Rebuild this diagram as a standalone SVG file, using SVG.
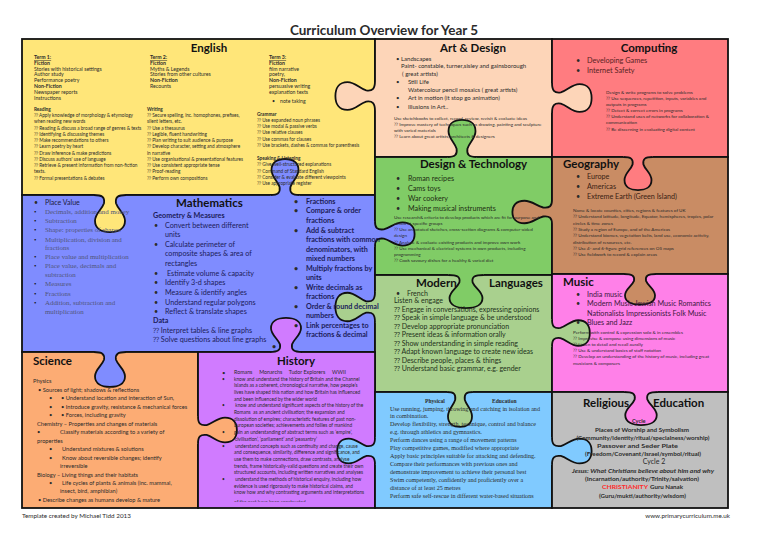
<svg xmlns="http://www.w3.org/2000/svg" xmlns:xlink="http://www.w3.org/1999/xlink" width="768" height="543" viewBox="0 0 768 543">
<style>
text{font-family:Lato,"Liberation Sans",sans-serif;fill:#2b2b2b}
.b{font-weight:bold}
.h{font-weight:bold;font-size:11.5px;fill:#111}
.sr{font-family:"Liberation Serif",serif}
.p{stroke:#111;stroke-width:1.8}
</style>
<defs>
<path id="tf" d="M-16,0 C-8,0 -5,-2 -6,-8 C-8,-14 -15,-18 -15,-25 C-15,-33 -8,-36 0,-36 C8,-36 15,-33 15,-25 C15,-18 8,-14 6,-8 C5,-2 8,0 16,0 L16,1.8 L-16,1.8 Z"/>
<path id="ts" d="M-16,0 C-8,0 -5,-2 -6,-8 C-8,-14 -15,-18 -15,-25 C-15,-33 -8,-36 0,-36 C8,-36 15,-33 15,-25 C15,-18 8,-14 6,-8 C5,-2 8,0 16,0" fill="none" stroke="#111" stroke-width="1.8" vector-effect="non-scaling-stroke"/>
<clipPath id="hclip"><rect x="198" y="352" width="177" height="149.8"/></clipPath>
</defs>
<rect width="768" height="543" fill="#fff"/>
<text x="384" y="35" text-anchor="middle" class="b" font-size="13.5" fill="#111">Curriculum Overview for Year 5</text>

<g id="panels">
<rect class="p" x="22" y="39" width="353" height="156" fill="#FFE679"/>
<rect class="p" x="375" y="39" width="177" height="118" fill="#FDD5B8"/>
<rect class="p" x="552" y="39" width="176" height="118" fill="#FF7C80"/>
<rect class="p" x="22" y="195" width="353" height="157" fill="#7F8CFF"/>
<rect class="p" x="375" y="157" width="177" height="118" fill="#80CC66"/>
<rect class="p" x="552" y="157" width="176" height="117" fill="#C98C64"/>
<rect class="p" x="375" y="275" width="177" height="117" fill="#A9D08E"/>
<rect class="p" x="552" y="274" width="176" height="118" fill="#FF80E8"/>
<rect class="p" x="22" y="352" width="176" height="156" fill="#FCAC74"/>
<rect class="p" x="198" y="352" width="177" height="156" fill="#D07BFF"/>
<rect class="p" x="375" y="392" width="177" height="116" fill="#80CAFF"/>
<rect class="p" x="552" y="392" width="176" height="116" fill="#BFBFBF"/>
</g>

<g id="tabs">
<use xlink:href="#tf" fill="#FDD5B8" transform="translate(375,96) rotate(-90) scale(0.93,1.1)"/>
<use xlink:href="#ts" transform="translate(375,96) rotate(-90) scale(0.93,1.1)"/>
<use xlink:href="#tf" fill="#FDD5B8" transform="translate(552,98) rotate(90) scale(0.93,1.1)"/>
<use xlink:href="#ts" transform="translate(552,98) rotate(90) scale(0.93,1.1)"/>
<use xlink:href="#tf" fill="#80CC66" transform="translate(462,157) scale(0.9,1.03)"/>
<use xlink:href="#ts" transform="translate(462,157) scale(0.9,1.03)"/>
<use xlink:href="#tf" fill="#FFE679" transform="translate(110,195) rotate(180) scale(1,1.03)"/>
<use xlink:href="#ts" transform="translate(110,195) rotate(180) scale(1,1.03)"/>
<use xlink:href="#tf" fill="#7F8CFF" transform="translate(285,195) scale(0.9,1)"/>
<use xlink:href="#ts" transform="translate(285,195) scale(0.9,1)"/>
<use xlink:href="#tf" fill="#7F8CFF" transform="translate(375,234) rotate(90) scale(0.77,1.1)"/>
<use xlink:href="#ts" transform="translate(375,234) rotate(90) scale(0.77,1.1)"/>
<use xlink:href="#tf" fill="#A9D08E" transform="translate(375,307) rotate(-90) scale(0.95,1.1)"/>
<use xlink:href="#ts" transform="translate(375,307) rotate(-90) scale(0.95,1.1)"/>
<use xlink:href="#tf" fill="#C98C64" transform="translate(552,212) rotate(-90) scale(0.75,1.1)"/>
<use xlink:href="#ts" transform="translate(552,212) rotate(-90) scale(0.75,1.1)"/>
<use xlink:href="#tf" fill="#FF7C80" transform="translate(638,157) rotate(180) scale(0.9,0.92)"/>
<use xlink:href="#ts" transform="translate(638,157) rotate(180) scale(0.9,0.92)"/>
<use xlink:href="#tf" fill="#80CC66" transform="translate(466,275) rotate(180) scale(1.1,0.92)"/>
<use xlink:href="#ts" transform="translate(466,275) rotate(180) scale(1.1,0.92)"/>
<use xlink:href="#tf" fill="#C98C64" transform="translate(640,274) rotate(180) scale(1,0.85)"/>
<use xlink:href="#ts" transform="translate(640,274) rotate(180) scale(1,0.85)"/>
<use xlink:href="#tf" fill="#A9D08E" transform="translate(552,333) rotate(90) scale(0.85,1.05)"/>
<use xlink:href="#ts" transform="translate(552,333) rotate(90) scale(0.85,1.05)"/>
<use xlink:href="#tf" fill="#7F8CFF" transform="translate(110,352) rotate(180) scale(1,0.97)"/>
<use xlink:href="#ts" transform="translate(110,352) rotate(180) scale(1,0.97)"/>
<use xlink:href="#tf" fill="#FCAC74" transform="translate(198,430) rotate(90) scale(0.83,1.08)"/>
<use xlink:href="#ts" transform="translate(198,430) rotate(90) scale(0.83,1.08)"/>
<use xlink:href="#tf" fill="#D07BFF" transform="translate(286,352) scale(1,0.95)"/>
<use xlink:href="#ts" transform="translate(286,352) scale(1,0.95)"/>
<use xlink:href="#tf" fill="#80CAFF" transform="translate(375,451) rotate(-90) scale(0.83,1.05)"/>
<use xlink:href="#ts" transform="translate(375,451) rotate(-90) scale(0.83,1.05)"/>
<use xlink:href="#tf" fill="#A9D08E" transform="translate(460,392) rotate(180) scale(0.8,0.97)"/>
<use xlink:href="#ts" transform="translate(460,392) rotate(180) scale(0.8,0.97)"/>
<use xlink:href="#tf" fill="#FF80E8" transform="translate(641,392) rotate(180) scale(1.05,0.92)"/>
<use xlink:href="#ts" transform="translate(641,392) rotate(180) scale(1.05,0.92)"/>
<use xlink:href="#tf" fill="#80CAFF" transform="translate(552,451) rotate(90) scale(0.83,1.1)"/>
<use xlink:href="#ts" transform="translate(552,451) rotate(90) scale(0.83,1.1)"/>
</g>

<g id="english">
<text x="209" y="52" text-anchor="middle" class="h">English</text>
<text font-size="5.2">
<tspan x="34" y="59" class="b" text-decoration="underline">Term 1:</tspan>
<tspan x="34" y="64.5" class="b">Fiction</tspan>
<tspan x="34" y="70.5">Stories with historical settings</tspan>
<tspan x="34" y="76.3">Author study</tspan>
<tspan x="34" y="82.2">Performance poetry</tspan>
<tspan x="34" y="88" class="b">Non-Fiction</tspan>
<tspan x="34" y="94">Newspaper reports</tspan>
<tspan x="34" y="99.7">Instructions</tspan>
<tspan x="150" y="59" class="b" text-decoration="underline">Term 2:</tspan>
<tspan x="150" y="64.5" class="b">Fiction</tspan>
<tspan x="150" y="70.5">Myths &amp; Legends</tspan>
<tspan x="150" y="76.3">Stories from other cultures</tspan>
<tspan x="150" y="82.2" class="b">Non-Fiction</tspan>
<tspan x="150" y="88">Recounts</tspan>
<tspan x="269" y="59" class="b" text-decoration="underline">Term 3:</tspan>
<tspan x="269" y="64.5" class="b">Fiction</tspan>
<tspan x="269" y="70.5">film narrative</tspan>
<tspan x="269" y="76.3">poetry,</tspan>
<tspan x="269" y="82.2" class="b">Non-Fiction</tspan>
<tspan x="269" y="88">persuasive writing</tspan>
<tspan x="269" y="94">explanation texts</tspan>
<tspan x="272" y="103">•</tspan>
<tspan x="280" y="103">note taking</tspan>
</text>
<text font-size="4.7">
<tspan x="34" y="111" class="b">Reading</tspan>
<tspan x="34" y="117.2">⁇ Apply knowledge of morphology &amp; etymology</tspan>
<tspan x="34" y="123.3">when reading new words</tspan>
<tspan x="34" y="129.5">⁇ Reading &amp; discuss a broad range of genres &amp; texts</tspan>
<tspan x="34" y="135.7">⁇ Identifying &amp; discussing themes</tspan>
<tspan x="34" y="142">⁇ Make recommendations to others</tspan>
<tspan x="34" y="148.2">⁇ Learn poetry by heart</tspan>
<tspan x="34" y="154.5">⁇ Draw inference &amp; make predictions</tspan>
<tspan x="34" y="160.8">⁇ Discuss authors' use of language</tspan>
<tspan x="34" y="167">⁇ Retrieve &amp; present information from non-fiction</tspan>
<tspan x="34" y="173.3">texts.</tspan>
<tspan x="34" y="179.6">⁇ Formal presentations &amp; debates</tspan>
<tspan x="147" y="111" class="b">Writing</tspan>
<tspan x="147" y="117.2">⁇ Secure spelling, inc. homophones, prefixes,</tspan>
<tspan x="147" y="123.3">silent letters, etc.</tspan>
<tspan x="147" y="129.5">⁇ Use a thesaurus</tspan>
<tspan x="147" y="135.7">⁇ Legible, fluent handwriting</tspan>
<tspan x="147" y="142">⁇ Plan writing to suit audience &amp; purpose</tspan>
<tspan x="147" y="148.2">⁇ Develop character, setting and atmosphere</tspan>
<tspan x="147" y="154.5">in narrative</tspan>
<tspan x="147" y="160.8">⁇ Use organisational &amp; presentational features</tspan>
<tspan x="147" y="167">⁇ Use consistent appropriate tense</tspan>
<tspan x="147" y="173.3">⁇ Proof-reading</tspan>
<tspan x="147" y="179.6">⁇ Perform own compositions</tspan>
<tspan x="257" y="115.5" class="b">Grammar</tspan>
<tspan x="257" y="121.8">⁇ Use expanded noun phrases</tspan>
<tspan x="257" y="128">⁇ Use modal &amp; passive verbs</tspan>
<tspan x="257" y="134.3">⁇ Use relative clauses</tspan>
<tspan x="257" y="140.6">⁇ Use commas for clauses</tspan>
<tspan x="257" y="146.9">⁇ Use brackets, dashes &amp; commas for parenthesis</tspan>
<tspan x="257" y="160" class="b">Speaking &amp; Listening</tspan>
<tspan x="257" y="166.2">⁇ Give well-structured explanations</tspan>
<tspan x="257" y="172.5">⁇ Command of Standard English</tspan>
<tspan x="257" y="178.8">⁇ Consider &amp; evaluate different viewpoints</tspan>
<tspan x="257" y="185">⁇ Use appropriate register</tspan>
</text>
</g>

<g id="art">
<text x="473" y="52" text-anchor="middle" class="h">Art &amp; Design</text>
<text font-size="6">
<tspan x="396" y="60.5">•</tspan><tspan x="401" y="60.5">Landscapes</tspan>
<tspan x="401" y="68">Paint- constable, turner,sisley and gainsborough</tspan>
<tspan x="402" y="75.5">( great artists)</tspan>
<tspan x="396" y="83.5">•</tspan><tspan x="408" y="83.5">Still Life</tspan>
<tspan x="408" y="91.5">Watercolour pencil mosaics ( great artists)</tspan>
<tspan x="396" y="100">•</tspan><tspan x="408" y="100">Art in motion (it stop go animation)</tspan>
<tspan x="396" y="109">•</tspan><tspan x="408" y="109">Illusions in Art..</tspan>
</text>
<text font-size="4.6">
<tspan x="394" y="119.5">Use sketchbooks to collect, record, review, revisit &amp; evaluate ideas</tspan>
<tspan x="394" y="125.6">⁇ Improve mastery of techniques such as drawing, painting and sculpture</tspan>
<tspan x="394" y="131.7">with varied materials</tspan>
<tspan x="394" y="137.8">⁇ Learn about great artists, architects &amp; designers</tspan>
</text>
</g>

<g id="computing">
<text x="649" y="52" text-anchor="middle" class="h">Computing</text>
<text font-size="7.3" fill="#5a2222">
<tspan x="576" y="63">•</tspan><tspan x="587" y="63" fill="#5a2222">Developing Games</tspan>
<tspan x="576" y="73">•</tspan><tspan x="587" y="73" fill="#5a2222">Internet Safety</tspan>
</text>
<text font-size="4.6">
<tspan x="606" y="93.5">Design &amp; write programs to solve problems</tspan>
<tspan x="606" y="99.6">⁇ Use sequences, repetition, inputs, variables and</tspan>
<tspan x="606" y="105.7">outputs in programs</tspan>
<tspan x="606" y="112.2">⁇ Detect &amp; correct errors in programs</tspan>
<tspan x="606" y="118.3">⁇ Understand uses of networks for collaboration &amp;</tspan>
<tspan x="606" y="124.4">communication</tspan>
<tspan x="606" y="131">⁇ Be discerning in evaluating digital content</tspan>
</text>
</g>

<g id="mathematics">
<text x="209.5" y="207" text-anchor="middle" class="h">Mathematics</text>
<text font-size="7" fill="#1c1c40">
<tspan x="34" y="204.5">•</tspan><tspan x="45" y="204.5" fill="#1c1c40">Place Value</tspan>
</text>
<text class="sr" font-size="6.9" fill="#50557a">
<tspan x="34" y="213.5" fill="#111">•</tspan><tspan x="45" y="213.5" fill="#50557a">Decimals, addition and money</tspan>
<tspan x="34" y="222.5" fill="#111">•</tspan><tspan x="45" y="222.5" fill="#50557a">Subtraction</tspan>
<tspan x="34" y="232" fill="#111">•</tspan><tspan x="45" y="232" fill="#50557a">Shape: properties of shapes</tspan>
<tspan x="34" y="241.5" fill="#111">•</tspan><tspan x="45" y="241.5" fill="#50557a">Multiplication, division and</tspan>
<tspan x="45" y="249.5" fill="#50557a">fractions</tspan>
<tspan x="34" y="259" fill="#111">•</tspan><tspan x="45" y="259" fill="#50557a">Place value and multiplication</tspan>
<tspan x="34" y="268" fill="#111">•</tspan><tspan x="45" y="268" fill="#50557a">Place value, decimals and</tspan>
<tspan x="45" y="276.5" fill="#50557a">subtraction</tspan>
<tspan x="34" y="286" fill="#111">•</tspan><tspan x="45" y="286" fill="#50557a">Measures</tspan>
<tspan x="34" y="295.5" fill="#111">•</tspan><tspan x="45" y="295.5" fill="#50557a">Fractions</tspan>
<tspan x="34" y="305" fill="#111">•</tspan><tspan x="45" y="305" fill="#50557a">Addition, subtraction and</tspan>
<tspan x="45" y="313.5" fill="#50557a">multiplication</tspan>
</text>
<text font-size="7.2" fill="#1c1c5a">
<tspan x="153" y="217.5" class="b" fill="#1c1c5a">Geometry &amp; Measures</tspan>
<tspan x="154" y="227.5">•</tspan><tspan x="165" y="227.5" fill="#1c1c5a">Convert between different</tspan>
<tspan x="165" y="237" fill="#1c1c5a">units</tspan>
<tspan x="154" y="246.5">•</tspan><tspan x="165" y="246.5" fill="#1c1c5a">Calculate perimeter of</tspan>
<tspan x="165" y="256" fill="#1c1c5a">composite shapes &amp; area of</tspan>
<tspan x="165" y="265.5" fill="#1c1c5a">rectangles</tspan>
<tspan x="154" y="275.5">•</tspan><tspan x="167" y="275.5" fill="#1c1c5a">Estimate volume &amp; capacity</tspan>
<tspan x="154" y="285">•</tspan><tspan x="165" y="285" fill="#1c1c5a">Identify 3-d shapes</tspan>
<tspan x="154" y="294.5">•</tspan><tspan x="165" y="294.5" fill="#1c1c5a">Measure &amp; identify angles</tspan>
<tspan x="154" y="304.5">•</tspan><tspan x="165" y="304.5" fill="#1c1c5a">Understand regular polygons</tspan>
<tspan x="154" y="314">•</tspan><tspan x="165" y="314" fill="#1c1c5a">Reflect &amp; translate shapes</tspan>
<tspan x="153" y="323" class="b" fill="#1c1c5a">Data</tspan>
<tspan x="153" y="332.5" fill="#1c1c5a">⁇ Interpret tables &amp; line graphs</tspan>
<tspan x="153" y="341.5" fill="#1c1c5a">⁇ Solve questions about line graphs</tspan>
</text>
<text font-size="7.2" class="b" fill="#1c1c5a">
<tspan x="294" y="203.5">•</tspan><tspan x="306" y="203.5" fill="#1c1c5a">Fractions</tspan>
<tspan x="294" y="213">•</tspan><tspan x="306" y="213" fill="#1c1c5a">Compare &amp; order</tspan>
<tspan x="306" y="222.5" fill="#1c1c5a">fractions</tspan>
<tspan x="294" y="232.5">•</tspan><tspan x="306" y="232.5" fill="#1c1c5a">Add &amp; subtract</tspan>
<tspan x="306" y="242" fill="#1c1c5a">fractions with common</tspan>
<tspan x="306" y="251.5" fill="#1c1c5a">denominators, with</tspan>
<tspan x="306" y="261" fill="#1c1c5a">mixed numbers</tspan>
<tspan x="294" y="270.5">•</tspan><tspan x="306" y="270.5" fill="#1c1c5a">Multiply fractions by</tspan>
<tspan x="306" y="280" fill="#1c1c5a">units</tspan>
<tspan x="294" y="289.5">•</tspan><tspan x="306" y="289.5" fill="#1c1c5a">Write decimals as</tspan>
<tspan x="306" y="299" fill="#1c1c5a">fractions</tspan>
<tspan x="294" y="308.5">•</tspan><tspan x="306" y="308.5" fill="#1c1c5a">Order &amp; round decimal</tspan>
<tspan x="306" y="318" fill="#1c1c5a">numbers</tspan>
<tspan x="294" y="327.5">•</tspan><tspan x="306" y="327.5" fill="#1c1c5a">Link percentages to</tspan>
<tspan x="306" y="337" fill="#1c1c5a">fractions &amp; decimal</tspan>
<tspan x="272" y="349">•</tspan>
</text>
</g>

<g id="design-technology">
<text x="473.5" y="168" text-anchor="middle" class="h">Design &amp; Technology</text>
<text font-size="7.2" fill="#1e2e14">
<tspan x="396" y="180.5">•</tspan><tspan x="408" y="180.5" fill="#1e2e14">Roman recipes</tspan>
<tspan x="396" y="190.5">•</tspan><tspan x="408" y="190.5" fill="#1e2e14">Cams toys</tspan>
<tspan x="396" y="200.5">•</tspan><tspan x="408" y="200.5" fill="#1e2e14">War cookery</tspan>
<tspan x="396" y="210.5">•</tspan><tspan x="408" y="210.5" fill="#1e2e14">Making musical instruments</tspan>
</text>
<text font-size="4.6">
<tspan x="394" y="218.5">Use research&amp; criteria to develop products which are fit for purpose and</tspan>
<tspan x="394" y="224.6">aimed at specific groups</tspan>
<tspan x="394" y="231">⁇ Use annotated sketches, cross-section diagrams &amp; computer-aided</tspan>
<tspan x="394" y="237">design</tspan>
<tspan x="394" y="243.5">⁇ Analyse &amp; evaluate existing products and improve own work</tspan>
<tspan x="394" y="249.6">⁇ Use mechanical &amp; electrical systems in own products, including</tspan>
<tspan x="394" y="255.7">programming</tspan>
<tspan x="394" y="262">⁇ Cook savoury dishes for a healthy &amp; varied diet</tspan>
</text>
</g>

<g id="geography">
<text x="563" y="168" class="h">Geography</text>
<text font-size="7.2" fill="#3a2214">
<tspan x="576" y="178.5">•</tspan><tspan x="587" y="178.5" fill="#3a2214">Europe</tspan>
<tspan x="576" y="188.5">•</tspan><tspan x="587" y="188.5" fill="#3a2214">Americas</tspan>
<tspan x="576" y="198.5">•</tspan><tspan x="587" y="198.5" fill="#3a2214">Extreme Earth (Green Island)</tspan>
</text>
<text font-size="4.6">
<tspan x="573" y="212">Name &amp; locate counties, cities, regions &amp; features of UK</tspan>
<tspan x="573" y="218.3">⁇ Understand latitude, longitude, Equator, hemispheres, tropics, polar</tspan>
<tspan x="573" y="224.5">circles &amp; time zones</tspan>
<tspan x="573" y="231">⁇ Study a region of Europe, and of the Americas</tspan>
<tspan x="573" y="237.3">⁇ Understand biomes, vegetation belts, land use, economic activity,</tspan>
<tspan x="573" y="243.5">distribution of resources, etc.</tspan>
<tspan x="573" y="249.8">⁇ Use 4- and 6-figure grid references on OS maps</tspan>
<tspan x="573" y="256.2">⁇ Use fieldwork to record &amp; explain areas</tspan>
</text>
</g>

<g id="modern-languages">
<text x="416" y="287" class="h">Modern</text>
<text x="489" y="287" class="h">Languages</text>
<text font-size="7" fill="#22301a">
<tspan x="396" y="296">•</tspan><tspan x="407" y="296" fill="#22301a">French</tspan>
<tspan x="394" y="303" fill="#22301a">Listen &amp; engage</tspan>
<tspan x="394" y="311.5" fill="#22301a">⁇ Engage in conversations, expressing opinions</tspan>
<tspan x="394" y="320" fill="#22301a">⁇ Speak in simple language &amp; be understood</tspan>
<tspan x="394" y="328.5" fill="#22301a">⁇ Develop appropriate pronunciation</tspan>
<tspan x="394" y="337" fill="#22301a">⁇ Present ideas &amp; information orally</tspan>
<tspan x="394" y="345.5" fill="#22301a">⁇ Show understanding in simple reading</tspan>
<tspan x="394" y="354" fill="#22301a">⁇ Adapt known language to create new ideas</tspan>
<tspan x="394" y="362.5" fill="#22301a">⁇ Describe people, places &amp; things</tspan>
<tspan x="394" y="371" fill="#22301a">⁇ Understand basic grammar, e.g. gender</tspan>
</text>
</g>

<g id="music">
<text x="563" y="286" class="h">Music</text>
<text font-size="7.2" fill="#401840">
<tspan x="576" y="296.5">•</tspan><tspan x="587" y="296.5" fill="#401840">India music</tspan>
<tspan x="576" y="306">•</tspan><tspan x="587" y="306" fill="#401840">Modern Music Jewish Music Romantics</tspan>
<tspan x="587" y="315.5" fill="#401840">Nationalists Impressionists Folk Music</tspan>
<tspan x="576" y="325">•</tspan><tspan x="587" y="325" fill="#401840">Blues and Jazz</tspan>
</text>
<text font-size="4.6">
<tspan x="573" y="333.5">Perform with control &amp; expression solo &amp; in ensembles</tspan>
<tspan x="573" y="339.7">⁇ Improvise &amp; compose using dimensions of music</tspan>
<tspan x="573" y="346">⁇ Listen to detail and recall aurally</tspan>
<tspan x="573" y="352.2">⁇ Use &amp; understand basics of staff notation</tspan>
<tspan x="573" y="358.4">⁇ Develop an understanding of the history of music, including great</tspan>
<tspan x="573" y="364.6">musicians &amp; composers</tspan>
</text>
</g>

<g id="science">
<text x="33" y="365" class="h">Science</text>
<text font-size="5.7" fill="#3a2414">
<tspan x="33" y="383">Physics</tspan>
<tspan x="38" y="391.5">• Sources of light; shadows &amp; reflections</tspan>
<tspan x="49" y="400">•</tspan><tspan x="61" y="400">• Understand location and interaction of Sun,</tspan>
<tspan x="49" y="408.7">•</tspan><tspan x="61" y="408.7">• Introduce gravity, resistance &amp; mechanical forces</tspan>
<tspan x="49" y="417.3">•</tspan><tspan x="61" y="417.3">• Forces, including gravity</tspan>
<tspan x="37" y="425.5">Chemistry – Properties and changes of materials</tspan>
<tspan x="37" y="434">•</tspan><tspan x="60" y="434">Classify materials according to a variety of</tspan>
<tspan x="37" y="442.5">properties</tspan>
<tspan x="49" y="451">•</tspan><tspan x="62" y="451">Understand mixtures &amp; solutions</tspan>
<tspan x="49" y="459.5">•</tspan><tspan x="62" y="459.5">Know about reversible changes; identify</tspan>
<tspan x="60" y="468">irreversible</tspan>
<tspan x="37" y="476.5">Biology – Living things and their habitats</tspan>
<tspan x="49" y="485">•</tspan><tspan x="62" y="485">Life cycles of plants &amp; animals (inc. mammal,</tspan>
<tspan x="60" y="493.3">insect, bird, amphibian)</tspan>
<tspan x="38" y="502">• Describe changes as humans develop &amp; mature</tspan>
</text>
</g>

<g id="history">
<text x="296" y="365" text-anchor="middle" class="h">History</text>
<g clip-path="url(#hclip)">
<text font-size="4.8" fill="#2a1036">
<tspan x="222" y="374.5" font-size="6">•</tspan><tspan x="234" y="373.5" font-size="5.3">Romans&#160;&#160;&#160;&#160; Monarchs&#160;&#160;&#160;&#160; Tudor Explorers&#160;&#160;&#160;&#160; WWII</tspan>
<tspan x="222" y="380.5">•</tspan><tspan x="234" y="380.5">know and understand the history of Britain and the Channel</tspan>
<tspan x="234" y="387.2">Islands as a coherent, chronological narrative, how people’s</tspan>
<tspan x="234" y="393.9">lives have shaped this nation and how Britain has influenced</tspan>
<tspan x="234" y="400.6">and been influenced by the wider world</tspan>
<tspan x="222" y="407.3">•</tspan><tspan x="234" y="407.3"> know and understand significant aspects of the history of the</tspan>
<tspan x="234" y="414">Romans&#160; as an ancient civilisation; the expansion and</tspan>
<tspan x="234" y="420.7">dissolution of empires; characteristic features of past non-</tspan>
<tspan x="234" y="427.4">European societies; achievements and follies of mankind</tspan>
<tspan x="222" y="434.1">•</tspan><tspan x="234" y="434.1">gain an understanding of abstract terms such as ‘empire’,</tspan>
<tspan x="234" y="440.8">‘civilisation’, ‘parliament’ and ‘peasantry’</tspan>
<tspan x="222" y="447.5">•</tspan><tspan x="234" y="447.5"> understand concepts such as continuity and change, cause</tspan>
<tspan x="234" y="454.2">and consequence, similarity, difference and significance, and</tspan>
<tspan x="234" y="460.9">use them to make connections, draw contrasts, analyse</tspan>
<tspan x="234" y="467.6">trends, frame historically-valid questions and create their own</tspan>
<tspan x="234" y="474.3">structured accounts, including written narratives and analyses</tspan>
<tspan x="222" y="481">•</tspan><tspan x="234" y="481"> understand the methods of historical enquiry, including how</tspan>
<tspan x="234" y="487.7">evidence is used rigorously to make historical claims, and</tspan>
<tspan x="234" y="494.4">know how and why contrasting arguments and interpretations</tspan>
<tspan x="234" y="503.6">of the past have been constructed</tspan>
</text>
</g>
</g>

<g id="physical-education">
<text class="sr b" font-size="5.6" fill="#111"><tspan x="425" y="402.5">Physical</tspan><tspan x="492" y="402.5">Education</tspan></text>
<text class="sr" font-size="6.1" fill="#1d2c60">
<tspan x="390" y="410.5">Use running, jumping, throwing and catching in isolation and</tspan>
<tspan x="390" y="418.3">in combination.</tspan>
<tspan x="390" y="426.2">Develop flexibility, strength, technique, control and balance</tspan>
<tspan x="390" y="434">e.g. through athletics and gymnastics.</tspan>
<tspan x="390" y="442">Perform dances using a range of movement patterns</tspan>
<tspan x="390" y="450">Play competitive games, modified where appropriate</tspan>
<tspan x="390" y="458">Apply basic principles suitable for attacking and defending.</tspan>
<tspan x="390" y="466">Compare their performances with previous ones and</tspan>
<tspan x="390" y="473.8">demonstrate improvement to achieve their personal best</tspan>
<tspan x="390" y="481.8">Swim competently, confidently and proficiently over a</tspan>
<tspan x="390" y="489.7">distance of at least 25 metres</tspan>
<tspan x="390" y="497.7">Perform safe self-rescue in different water-based situations</tspan>
</text>
</g>

<g id="religious-education">
<text x="583" y="407" class="h" font-size="10.5">Religious</text>
<text x="653" y="407" class="h" font-size="10.5">Education</text>
<text x="632" y="423" class="b" font-size="5.6" fill="#3a0a3a">Cycle</text>
<g class="b" font-size="5.6" text-anchor="middle">
<text x="642" y="431.5" textLength="94" lengthAdjust="spacingAndGlyphs">Places of Worship and Symbolism</text>
<text x="643" y="439.5" textLength="133" lengthAdjust="spacingAndGlyphs">(Community/identity/ritual/specialness/worship)</text>
<text x="637.5" y="447.5" textLength="81" lengthAdjust="spacingAndGlyphs">Passover and Seder Plate</text>
<text x="643" y="455.5" textLength="116" lengthAdjust="spacingAndGlyphs">(Freedom/Covenant/Israel/symbol/ritual)</text>
<text x="643" y="472.5" font-style="italic" textLength="142" lengthAdjust="spacingAndGlyphs">Jesus: What Christians believe about him and why</text>
<text x="642" y="480.5" textLength="114" lengthAdjust="spacingAndGlyphs">(Incarnation/authority/Trinity/salvation)</text>
<text x="642.5" y="497.5" textLength="87" lengthAdjust="spacingAndGlyphs">(Guru/mukti/authority/wisdom)</text>
</g>
<text x="654" y="464" text-anchor="middle" font-size="7" fill="#333">Cycle 2</text>
<text class="b" font-size="5.6"><tspan x="602" y="489" fill="#FF2A2A" textLength="46" lengthAdjust="spacingAndGlyphs">CHRISTIANITY</tspan><tspan x="650" y="489" textLength="33" lengthAdjust="spacingAndGlyphs">Guru Nanak</tspan></text>
</g>

<g id="footer">
<text x="22" y="517.5" font-size="6.3" fill="#444">Template created by Michael Tidd  2013</text>
<text x="730" y="517.5" text-anchor="end" font-size="6.3" fill="#444">www.primarycurriculum.me.uk</text>
</g>
</svg>
